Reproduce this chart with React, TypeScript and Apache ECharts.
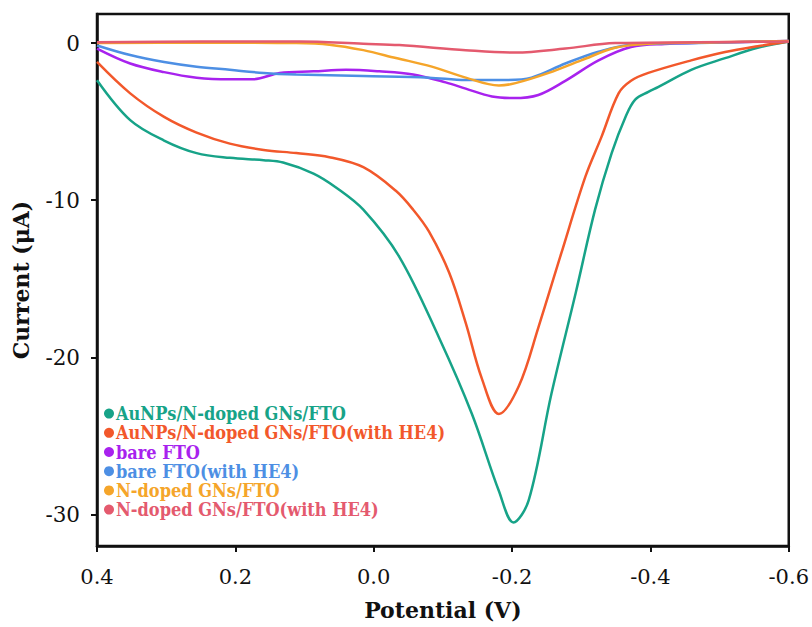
import React, { useEffect, useRef } from "react";
import * as echarts from "echarts";

// Potential (V) and current (µA)
const names = [
  "AuNPs/N-doped GNs/FTO",
  "AuNPs/N-doped GNs/FTO(with HE4)",
  "bare FTO",
  "bare FTO(with HE4)",
  "N-doped GNs/FTO",
  "N-doped GNs/FTO(with HE4)",
];
const colors = ["#17a388", "#f2582b", "#a822ee", "#4d8fe4", "#f5a52a", "#e45a6e"];

const auX = [0.4, 0.352, 0.303, 0.256, 0.208, 0.159, 0.131, 0.087, 0.054, 0.015, -0.037, -0.094, -0.142, -0.181, -0.202, -0.224, -0.257, -0.292, -0.32, -0.344, -0.364, -0.378, -0.397, -0.411, -0.459, -0.508, -0.555, -0.6];
const auY = [-2.36, -4.9, -6.2, -7.0, -7.3, -7.45, -7.6, -8.3, -9.2, -10.6, -13.6, -18.7, -23.6, -28.5, -30.5, -29.1, -22.3, -15.9, -10.6, -7.0, -4.7, -3.6, -3.1, -2.8, -1.7, -0.96, -0.3, 0.1];

const auHeX = [0.4, 0.352, 0.303, 0.256, 0.208, 0.159, 0.112, 0.064, 0.015, -0.032, -0.057, -0.08, -0.109, -0.133, -0.156, -0.181, -0.21, -0.238, -0.271, -0.306, -0.329, -0.354, -0.372, -0.397, -0.459, -0.508, -0.555, -0.6];
const auHeY = [-1.2, -3.2, -4.7, -5.7, -6.4, -6.8, -7.0, -7.26, -7.9, -9.4, -10.6, -12.0, -14.6, -17.8, -21.3, -23.6, -21.8, -18.1, -13.4, -8.5, -6.0, -3.2, -2.4, -1.9, -1.1, -0.57, -0.2, 0.1];

const bareX = [0.4, 0.352, 0.303, 0.256, 0.208, 0.174, 0.136, 0.087, 0.04, -0.008, -0.057, -0.104, -0.133, -0.171, -0.202, -0.238, -0.277, -0.325, -0.372, -0.421, -0.516, -0.6];
const bareY = [-0.35, -1.3, -1.85, -2.2, -2.3, -2.3, -1.9, -1.8, -1.7, -1.8, -2.0, -2.5, -2.9, -3.4, -3.5, -3.3, -2.4, -1.1, -0.25, -0.06, 0.06, 0.13];

const bareHeX = [0.4, 0.352, 0.303, 0.256, 0.208, 0.159, 0.112, 0.015, -0.08, -0.133, -0.191, -0.228, -0.277, -0.325, -0.372, -0.469, -0.6];
const bareHeY = [-0.15, -0.76, -1.2, -1.5, -1.7, -1.9, -2.0, -2.1, -2.2, -2.35, -2.35, -2.2, -1.3, -0.55, -0.1, 0.0, 0.13];

const ngX = [0.4, 0.25, 0.112, 0.064, 0.015, -0.032, -0.084, -0.133, -0.181, -0.205, -0.253, -0.3, -0.349, -0.397, -0.498, -0.6];
const ngY = [0.0, 0.03, 0.0, -0.1, -0.45, -0.95, -1.5, -2.2, -2.7, -2.55, -1.9, -1.1, -0.3, -0.05, 0.05, 0.13];

const ngHeX = [0.4, 0.25, 0.107, 0.015, -0.037, -0.133, -0.205, -0.277, -0.349, -0.469, -0.6];
const ngHeY = [0.05, 0.1, 0.1, -0.05, -0.13, -0.45, -0.6, -0.35, 0.0, 0.05, 0.1];

const seriesX = [auX, auHeX, bareX, bareHeX, ngX, ngHeX];
const seriesY = [auY, auHeY, bareY, bareHeY, ngY, ngHeY];

const yTicks = [0, -10, -20, -30];

const FONT = "'DejaVu Serif', serif";
const FONT_C = "'DejaVu Serif Condensed', 'DejaVu Serif', serif";

export default function App() {
  const ref = useRef<HTMLDivElement>(null);
  useEffect(() => {
    if (!ref.current) return;
    const chart = echarts.init(ref.current, undefined, { renderer: "svg" });
    chart.setOption({
      animation: false,
      backgroundColor: "#ffffff",
      grid: {
        left: 97,
        right: 21,
        top: 14,
        bottom: 81,
        show: true,
        borderColor: "#111",
        borderWidth: 2.5,
      },
      legend: {
        orient: "vertical",
        left: 99,
        top: 399,
        icon: "circle",
        itemWidth: 10,
        itemHeight: 10,
        itemGap: 0,
        data: names.map((n, i) => ({
          name: n,
          textStyle: { color: colors[i] },
        })),
        textStyle: {
          fontFamily: FONT_C,
          fontWeight: "bold",
          fontSize: 18,
          lineHeight: 19.2,
          padding: [0, 0, 0, -3],
        },
      },
      xAxis: {
        type: "value",
        inverse: true,
        min: -0.6,
        max: 0.4,
        interval: 0.2,
        name: "Potential (V)",
        nameLocation: "middle",
        nameGap: 53,
        nameTextStyle: {
          fontFamily: FONT,
          fontWeight: "bold",
          fontSize: 22,
          color: "#111",
        },
        axisLine: { show: true, onZero: false, lineStyle: { color: "#111", width: 2.5 } },
        axisTick: { show: true, inside: false, length: 6, lineStyle: { color: "#111", width: 2 } },
        axisLabel: {
          margin: 20,
          fontFamily: FONT,
          fontSize: 21,
          color: "#111",
          formatter: (v: number) => {
            const r = Math.round(v * 10) / 10;
            return (Math.abs(r) < 1e-9 ? 0 : r).toFixed(1);
          },
        },
        splitLine: { show: false },
      },
      yAxis: {
        type: "value",
        min: -32,
        max: 1.85,
        name: "Current (μA)",
        nameLocation: "middle",
        nameGap: 65,
        nameTextStyle: {
          fontFamily: FONT,
          fontWeight: "bold",
          fontSize: 22,
          color: "#111",
        },
        axisLine: { show: true, onZero: false, lineStyle: { color: "#111", width: 2.5 } },
        axisTick: {
          show: true,
          inside: false,
          length: 6,
          customValues: yTicks,
          lineStyle: { color: "#111", width: 2 },
        },
        axisLabel: {
          margin: 17,
          fontFamily: FONT,
          fontSize: 21.5,
          color: "#111",
          customValues: yTicks,
          formatter: (v: number) => String(Math.round(v)),
        },
        splitLine: { show: false },
      },
      series: names.map((n, i) => ({
        name: n,
        type: "line",
        smooth: 0.35,
        showSymbol: false,
        symbol: "circle",
        color: colors[i],
        lineStyle: { width: 2.5, color: colors[i] },
        data: seriesX[i].map((x, k) => [x, seriesY[i][k]]),
      })),
    });
    return () => chart.dispose();
  }, []);
  return (
    <div
      ref={ref}
      style={{ position: "fixed", left: 0, top: 0, width: 812, height: 627, background: "#fff" }}
    />
  );
}
